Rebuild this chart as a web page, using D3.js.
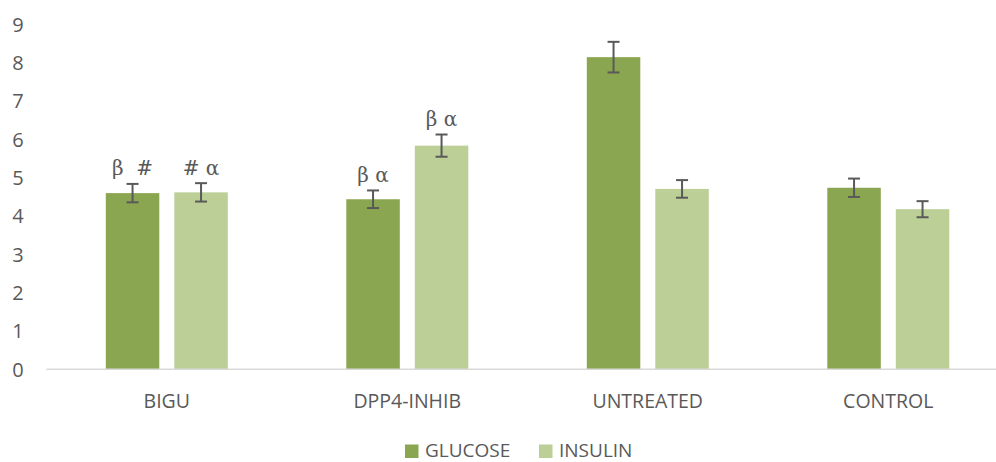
<!DOCTYPE html>
<html lang="en">
<head>
  <meta charset="UTF-8">
  <title>Glucose / Insulin</title>
  <script src="https://d3js.org/d3.v7.min.js"></script>
  <style>
    body { margin: 0; background: #fff; }
    svg { display: block; }
    text { font-family: "Open Sans", sans-serif; fill: #595959; }
    text.mark { font-family: "DejaVu Serif", "Liberation Serif", serif; }
  </style>
</head>
<body>
  <svg width="996" height="462"></svg>
  <script>
    const groups = ["BIGU", "DPP4-INHIB", "UNTREATED", "CONTROL"];
    const seriesNames = ["GLUCOSE", "INSULIN"];
    const glucose = [4.6, 4.44, 8.15, 4.74];
    const insulin = [4.62, 5.84, 4.71, 4.18];
    const glucoseErr = [0.24, 0.23, 0.40, 0.24];
    const insulinErr = [0.24, 0.29, 0.23, 0.21];
    const glucoseMarks = ["β  #", "β α", "", ""];
    const insulinMarks = ["# α", "β α", "", ""];
    const yTicks = [0, 1, 2, 3, 4, 5, 6, 7, 8, 9];

    const colors = { GLUCOSE: "#8ba650", INSULIN: "#bbcf97" };

    const svg = d3.select("svg");

    const x0 = d3.scaleBand().domain(groups).range([46.5, 1008.5]);
    const x1 = d3.scaleBand().domain(seriesNames)
      .range([59.3, 181.3]).paddingInner(0.219);
    const y = d3.scaleLinear().domain([0, 9]).range([369.3, 24.6]);

    const rows = [];
    groups.forEach((g, i) => {
      rows.push({ g, s: "GLUCOSE", v: glucose[i], e: glucoseErr[i], m: glucoseMarks[i] });
      rows.push({ g, s: "INSULIN", v: insulin[i], e: insulinErr[i], m: insulinMarks[i] });
    });

    // y tick labels (no axis line)
    svg.append("g").selectAll("text")
      .data(yTicks)
      .join("text")
      .attr("x", 18)
      .attr("y", d => y(d))
      .attr("dy", "0.36em")
      .attr("text-anchor", "middle")
      .style("font-size", "20px")
      .text(d => d);

    // bars
    svg.append("g").selectAll("rect")
      .data(rows)
      .join("rect")
      .attr("x", d => x0(d.g) + x1(d.s))
      .attr("y", d => y(d.v))
      .attr("width", x1.bandwidth())
      .attr("height", d => y(0) - y(d.v))
      .attr("fill", d => colors[d.s]);

    // baseline
    svg.append("line")
      .attr("x1", 46.5).attr("x2", 996)
      .attr("y1", y(0)).attr("y2", y(0))
      .attr("stroke", "#d9d9d9").attr("stroke-width", 1.5);

    // error bars
    const eb = svg.append("g").attr("stroke", "#595959").attr("stroke-width", 2);
    rows.forEach(d => {
      const cx = x0(d.g) + x1(d.s) + x1.bandwidth() / 2;
      const top = y(d.v + d.e), bot = y(d.v - d.e);
      eb.append("line").attr("x1", cx).attr("x2", cx).attr("y1", top).attr("y2", bot);
      eb.append("line").attr("x1", cx - 6).attr("x2", cx + 6).attr("y1", top).attr("y2", top);
      eb.append("line").attr("x1", cx - 6).attr("x2", cx + 6).attr("y1", bot).attr("y2", bot);
    });

    // significance marks
    svg.append("g").selectAll("text")
      .data(rows.filter(d => d.m))
      .join("text")
      .attr("class", "mark")
      .attr("x", d => x0(d.g) + x1(d.s) + x1.bandwidth() / 2)
      .attr("y", d => y(d.v + d.e) - 8.5)
      .attr("text-anchor", "middle")
      .style("font-size", "20px")
      .style("white-space", "pre")
      .text(d => d.m);

    // category labels
    svg.append("g").selectAll("text")
      .data(groups)
      .join("text")
      .attr("x", d => x0(d) + x0.bandwidth() / 2)
      .attr("y", 408.3)
      .attr("text-anchor", "middle")
      .style("font-size", "19.5px")
      .text(d => d);

    // legend
    const legend = svg.append("g");
    const legendX = [405, 539];
    seriesNames.forEach((s, i) => {
      legend.append("rect")
        .attr("x", legendX[i]).attr("y", 444.5)
        .attr("width", 13.5).attr("height", 13.5)
        .attr("fill", colors[s]);
      legend.append("text")
        .attr("x", legendX[i] + 20).attr("y", 457)
        .style("font-size", "19px")
        .text(s);
    });
  </script>
</body>
</html>
